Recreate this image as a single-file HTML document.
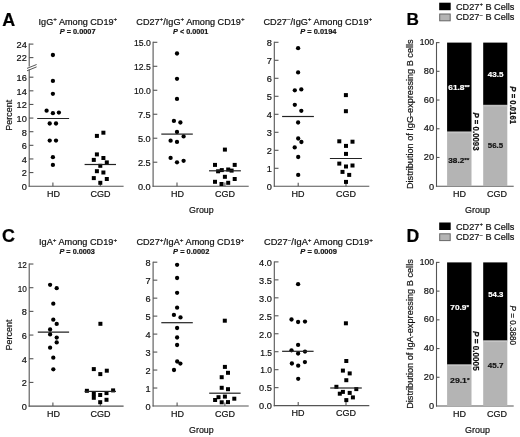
<!DOCTYPE html>
<html><head><meta charset="utf-8"><style>
html,body{margin:0;padding:0;background:#fff;}
svg{display:block;font-family:"Liberation Sans", sans-serif;will-change:transform;}
text{stroke-width:0.2px;}
</style></head><body>
<svg width="520" height="437" viewBox="0 0 520 437">
<rect width="520" height="437" fill="#fff"/>
<text x="2.30" y="25.50" font-size="17.9" text-anchor="start" font-weight="bold" fill="#000" stroke="#000" style="">A</text>
<text x="2.00" y="241.60" font-size="17.9" text-anchor="start" font-weight="bold" fill="#000" stroke="#000" style="">C</text>
<text x="406.60" y="24.90" font-size="17.2" text-anchor="start" font-weight="bold" fill="#000" stroke="#000" style="">B</text>
<text x="406.60" y="241.60" font-size="17.6" text-anchor="start" font-weight="bold" fill="#000" stroke="#000" style="">D</text>
<text x="38.60" y="25.20" font-size="8.6" text-anchor="start" font-weight="normal" fill="#111" stroke="#111" textLength="78.60" lengthAdjust="spacingAndGlyphs" style="">IgG<tspan font-size="5.9" dy="-3.8">+</tspan><tspan dy="3.8"> Among CD19</tspan><tspan font-size="5.9" dy="-3.8">+</tspan></text>
<text x="136.30" y="25.20" font-size="8.6" text-anchor="start" font-weight="normal" fill="#111" stroke="#111" textLength="108.30" lengthAdjust="spacingAndGlyphs" style="">CD27<tspan font-size="5.9" dy="-3.8">+</tspan><tspan dy="3.8">/IgG</tspan><tspan font-size="5.9" dy="-3.8">+</tspan><tspan dy="3.8"> Among CD19</tspan><tspan font-size="5.9" dy="-3.8">+</tspan></text>
<text x="263.50" y="25.20" font-size="8.6" text-anchor="start" font-weight="normal" fill="#111" stroke="#111" textLength="108.70" lengthAdjust="spacingAndGlyphs" style="">CD27<tspan font-size="5.9" dy="-3.8">−</tspan><tspan dy="3.8">/IgG</tspan><tspan font-size="5.9" dy="-3.8">+</tspan><tspan dy="3.8"> Among CD19</tspan><tspan font-size="5.9" dy="-3.8">+</tspan></text>
<text x="39.00" y="245.30" font-size="8.6" text-anchor="start" font-weight="normal" fill="#111" stroke="#111" textLength="78.10" lengthAdjust="spacingAndGlyphs" style="">IgA<tspan font-size="5.9" dy="-3.8">+</tspan><tspan dy="3.8"> Among CD19</tspan><tspan font-size="5.9" dy="-3.8">+</tspan></text>
<text x="136.40" y="245.30" font-size="8.6" text-anchor="start" font-weight="normal" fill="#111" stroke="#111" textLength="107.80" lengthAdjust="spacingAndGlyphs" style="">CD27<tspan font-size="5.9" dy="-3.8">+</tspan><tspan dy="3.8">/IgA</tspan><tspan font-size="5.9" dy="-3.8">+</tspan><tspan dy="3.8"> Among CD19</tspan><tspan font-size="5.9" dy="-3.8">+</tspan></text>
<text x="264.00" y="245.30" font-size="8.6" text-anchor="start" font-weight="normal" fill="#111" stroke="#111" textLength="108.90" lengthAdjust="spacingAndGlyphs" style="">CD27<tspan font-size="5.9" dy="-3.8">−</tspan><tspan dy="3.8">/IgA</tspan><tspan font-size="5.9" dy="-3.8">+</tspan><tspan dy="3.8"> Among CD19</tspan><tspan font-size="5.9" dy="-3.8">+</tspan></text>
<text x="59.70" y="34.20" font-size="7.9" text-anchor="start" font-weight="bold" fill="#111" stroke="#111" textLength="35.90" lengthAdjust="spacingAndGlyphs" style=""><tspan font-style="italic">P</tspan> = 0.0007</text>
<text x="173.10" y="34.20" font-size="7.9" text-anchor="start" font-weight="bold" fill="#111" stroke="#111" textLength="35.20" lengthAdjust="spacingAndGlyphs" style=""><tspan font-style="italic">P</tspan> &lt; 0.0001</text>
<text x="300.30" y="34.20" font-size="7.9" text-anchor="start" font-weight="bold" fill="#111" stroke="#111" textLength="36.20" lengthAdjust="spacingAndGlyphs" style=""><tspan font-style="italic">P</tspan> = 0.0194</text>
<text x="59.50" y="253.60" font-size="7.9" text-anchor="start" font-weight="bold" fill="#111" stroke="#111" textLength="35.40" lengthAdjust="spacingAndGlyphs" style=""><tspan font-style="italic">P</tspan> = 0.0003</text>
<text x="173.10" y="253.60" font-size="7.9" text-anchor="start" font-weight="bold" fill="#111" stroke="#111" textLength="36.20" lengthAdjust="spacingAndGlyphs" style=""><tspan font-style="italic">P</tspan> = 0.0002</text>
<text x="300.30" y="253.60" font-size="7.9" text-anchor="start" font-weight="bold" fill="#111" stroke="#111" textLength="36.60" lengthAdjust="spacingAndGlyphs" style=""><tspan font-style="italic">P</tspan> = 0.0009</text>
<line x1="29.20" y1="43.60" x2="29.20" y2="66.60" stroke="#555" stroke-width="1.1"/>
<line x1="29.20" y1="69.40" x2="29.20" y2="186.75" stroke="#555" stroke-width="1.1"/>
<line x1="28.65" y1="186.20" x2="123.60" y2="186.20" stroke="#555" stroke-width="1.1"/>
<line x1="29.20" y1="44.10" x2="33.40" y2="44.10" stroke="#555" stroke-width="1.1"/>
<text x="26.80" y="47.90" font-size="9.2" text-anchor="end" font-weight="normal" fill="#111" stroke="#111" style="">24</text>
<line x1="29.20" y1="57.60" x2="33.40" y2="57.60" stroke="#555" stroke-width="1.1"/>
<text x="26.80" y="61.40" font-size="9.2" text-anchor="end" font-weight="normal" fill="#111" stroke="#111" style="">22</text>
<line x1="29.20" y1="77.20" x2="33.40" y2="77.20" stroke="#555" stroke-width="1.1"/>
<text x="26.80" y="81.00" font-size="9.2" text-anchor="end" font-weight="normal" fill="#111" stroke="#111" style="">16</text>
<line x1="29.20" y1="90.82" x2="33.40" y2="90.82" stroke="#555" stroke-width="1.1"/>
<text x="26.80" y="94.62" font-size="9.2" text-anchor="end" font-weight="normal" fill="#111" stroke="#111" style="">14</text>
<line x1="29.20" y1="104.45" x2="33.40" y2="104.45" stroke="#555" stroke-width="1.1"/>
<text x="26.80" y="108.25" font-size="9.2" text-anchor="end" font-weight="normal" fill="#111" stroke="#111" style="">12</text>
<line x1="29.20" y1="118.07" x2="33.40" y2="118.07" stroke="#555" stroke-width="1.1"/>
<text x="26.80" y="121.87" font-size="9.2" text-anchor="end" font-weight="normal" fill="#111" stroke="#111" style="">10</text>
<line x1="29.20" y1="131.70" x2="33.40" y2="131.70" stroke="#555" stroke-width="1.1"/>
<text x="26.80" y="135.50" font-size="9.2" text-anchor="end" font-weight="normal" fill="#111" stroke="#111" style="">8</text>
<line x1="29.20" y1="145.32" x2="33.40" y2="145.32" stroke="#555" stroke-width="1.1"/>
<text x="26.80" y="149.12" font-size="9.2" text-anchor="end" font-weight="normal" fill="#111" stroke="#111" style="">6</text>
<line x1="29.20" y1="158.95" x2="33.40" y2="158.95" stroke="#555" stroke-width="1.1"/>
<text x="26.80" y="162.75" font-size="9.2" text-anchor="end" font-weight="normal" fill="#111" stroke="#111" style="">4</text>
<line x1="29.20" y1="172.57" x2="33.40" y2="172.57" stroke="#555" stroke-width="1.1"/>
<text x="26.80" y="176.38" font-size="9.2" text-anchor="end" font-weight="normal" fill="#111" stroke="#111" style="">2</text>
<text x="26.80" y="190.00" font-size="9.2" text-anchor="end" font-weight="normal" fill="#111" stroke="#111" style="">0</text>
<line x1="27.00" y1="68.40" x2="36.60" y2="64.50" stroke="#555" stroke-width="1.0"/>
<line x1="27.00" y1="70.80" x2="36.60" y2="66.90" stroke="#555" stroke-width="1.0"/>
<line x1="52.90" y1="186.20" x2="52.90" y2="182.60" stroke="#555" stroke-width="1.1"/>
<line x1="100.30" y1="186.20" x2="100.30" y2="182.60" stroke="#555" stroke-width="1.1"/>
<text x="53.60" y="196.80" font-size="9.0" text-anchor="middle" font-weight="normal" fill="#111" stroke="#111" style="">HD</text>
<text x="100.60" y="196.80" font-size="9.0" text-anchor="middle" font-weight="normal" fill="#111" stroke="#111" style="">CGD</text>
<circle cx="52.90" cy="55.00" r="2.15" fill="#000"/>
<circle cx="52.90" cy="80.90" r="2.15" fill="#000"/>
<circle cx="52.90" cy="93.80" r="2.15" fill="#000"/>
<circle cx="46.60" cy="110.70" r="2.15" fill="#000"/>
<circle cx="52.90" cy="113.20" r="2.15" fill="#000"/>
<circle cx="58.90" cy="112.60" r="2.15" fill="#000"/>
<circle cx="49.70" cy="123.50" r="2.15" fill="#000"/>
<circle cx="56.00" cy="123.50" r="2.15" fill="#000"/>
<circle cx="49.70" cy="140.60" r="2.15" fill="#000"/>
<circle cx="56.00" cy="140.60" r="2.15" fill="#000"/>
<circle cx="52.90" cy="157.20" r="2.15" fill="#000"/>
<circle cx="52.90" cy="164.90" r="2.15" fill="#000"/>
<line x1="37.20" y1="118.50" x2="69.10" y2="118.50" stroke="#222" stroke-width="1.2"/>
<rect x="94.90" y="133.90" width="4.0" height="4.0" fill="#000"/>
<rect x="101.40" y="130.70" width="4.0" height="4.0" fill="#000"/>
<rect x="94.90" y="152.40" width="4.0" height="4.0" fill="#000"/>
<rect x="91.80" y="157.90" width="4.0" height="4.0" fill="#000"/>
<rect x="101.40" y="156.00" width="4.0" height="4.0" fill="#000"/>
<rect x="104.80" y="160.40" width="4.0" height="4.0" fill="#000"/>
<rect x="98.30" y="163.80" width="4.0" height="4.0" fill="#000"/>
<rect x="94.90" y="169.20" width="4.0" height="4.0" fill="#000"/>
<rect x="101.40" y="170.50" width="4.0" height="4.0" fill="#000"/>
<rect x="91.80" y="176.10" width="4.0" height="4.0" fill="#000"/>
<rect x="104.80" y="177.00" width="4.0" height="4.0" fill="#000"/>
<rect x="98.30" y="180.80" width="4.0" height="4.0" fill="#000"/>
<line x1="84.60" y1="164.50" x2="116.00" y2="164.50" stroke="#222" stroke-width="1.2"/>
<line x1="153.10" y1="41.80" x2="153.10" y2="186.75" stroke="#555" stroke-width="1.1"/>
<line x1="152.55" y1="186.20" x2="248.70" y2="186.20" stroke="#555" stroke-width="1.1"/>
<line x1="153.10" y1="42.30" x2="157.30" y2="42.30" stroke="#555" stroke-width="1.1"/>
<text x="150.70" y="46.10" font-size="9.2" text-anchor="end" font-weight="normal" fill="#111" stroke="#111" textLength="16.80" lengthAdjust="spacingAndGlyphs" style="">15.0</text>
<line x1="153.10" y1="66.29" x2="157.30" y2="66.29" stroke="#555" stroke-width="1.1"/>
<text x="150.70" y="70.09" font-size="9.2" text-anchor="end" font-weight="normal" fill="#111" stroke="#111" textLength="16.80" lengthAdjust="spacingAndGlyphs" style="">12.5</text>
<line x1="153.10" y1="90.27" x2="157.30" y2="90.27" stroke="#555" stroke-width="1.1"/>
<text x="150.70" y="94.07" font-size="9.2" text-anchor="end" font-weight="normal" fill="#111" stroke="#111" textLength="16.80" lengthAdjust="spacingAndGlyphs" style="">10.0</text>
<line x1="153.10" y1="114.25" x2="157.30" y2="114.25" stroke="#555" stroke-width="1.1"/>
<text x="150.70" y="118.05" font-size="9.2" text-anchor="end" font-weight="normal" fill="#111" stroke="#111" style="">7.5</text>
<line x1="153.10" y1="138.23" x2="157.30" y2="138.23" stroke="#555" stroke-width="1.1"/>
<text x="150.70" y="142.03" font-size="9.2" text-anchor="end" font-weight="normal" fill="#111" stroke="#111" style="">5.0</text>
<line x1="153.10" y1="162.22" x2="157.30" y2="162.22" stroke="#555" stroke-width="1.1"/>
<text x="150.70" y="166.02" font-size="9.2" text-anchor="end" font-weight="normal" fill="#111" stroke="#111" style="">2.5</text>
<text x="150.70" y="190.00" font-size="9.2" text-anchor="end" font-weight="normal" fill="#111" stroke="#111" style="">0.0</text>
<line x1="177.00" y1="186.20" x2="177.00" y2="182.60" stroke="#555" stroke-width="1.1"/>
<line x1="224.90" y1="186.20" x2="224.90" y2="182.60" stroke="#555" stroke-width="1.1"/>
<text x="177.40" y="196.80" font-size="9.0" text-anchor="middle" font-weight="normal" fill="#111" stroke="#111" style="">HD</text>
<text x="224.90" y="196.80" font-size="9.0" text-anchor="middle" font-weight="normal" fill="#111" stroke="#111" style="">CGD</text>
<circle cx="177.00" cy="53.50" r="2.15" fill="#000"/>
<circle cx="177.00" cy="78.80" r="2.15" fill="#000"/>
<circle cx="177.00" cy="98.90" r="2.15" fill="#000"/>
<circle cx="173.90" cy="120.90" r="2.15" fill="#000"/>
<circle cx="180.40" cy="122.50" r="2.15" fill="#000"/>
<circle cx="177.00" cy="132.00" r="2.15" fill="#000"/>
<circle cx="183.60" cy="136.40" r="2.15" fill="#000"/>
<circle cx="170.60" cy="140.70" r="2.15" fill="#000"/>
<circle cx="177.00" cy="141.90" r="2.15" fill="#000"/>
<circle cx="170.60" cy="157.90" r="2.15" fill="#000"/>
<circle cx="177.00" cy="162.30" r="2.15" fill="#000"/>
<circle cx="183.60" cy="160.80" r="2.15" fill="#000"/>
<line x1="161.30" y1="134.10" x2="192.80" y2="134.10" stroke="#222" stroke-width="1.2"/>
<rect x="222.90" y="147.60" width="4.0" height="4.0" fill="#000"/>
<rect x="213.00" y="162.90" width="4.0" height="4.0" fill="#000"/>
<rect x="232.70" y="162.90" width="4.0" height="4.0" fill="#000"/>
<rect x="216.10" y="169.30" width="4.0" height="4.0" fill="#000"/>
<rect x="219.80" y="168.10" width="4.0" height="4.0" fill="#000"/>
<rect x="226.20" y="167.50" width="4.0" height="4.0" fill="#000"/>
<rect x="229.60" y="168.60" width="4.0" height="4.0" fill="#000"/>
<rect x="222.90" y="174.80" width="4.0" height="4.0" fill="#000"/>
<rect x="232.70" y="177.00" width="4.0" height="4.0" fill="#000"/>
<rect x="213.00" y="179.80" width="4.0" height="4.0" fill="#000"/>
<rect x="219.50" y="182.00" width="4.0" height="4.0" fill="#000"/>
<rect x="226.20" y="180.80" width="4.0" height="4.0" fill="#000"/>
<line x1="209.00" y1="170.80" x2="240.90" y2="170.80" stroke="#222" stroke-width="1.2"/>
<line x1="274.30" y1="41.80" x2="274.30" y2="186.85" stroke="#555" stroke-width="1.1"/>
<line x1="273.75" y1="186.30" x2="369.30" y2="186.30" stroke="#555" stroke-width="1.1"/>
<line x1="274.30" y1="42.30" x2="278.50" y2="42.30" stroke="#555" stroke-width="1.1"/>
<text x="271.90" y="46.10" font-size="9.2" text-anchor="end" font-weight="normal" fill="#111" stroke="#111" style="">8</text>
<line x1="274.30" y1="60.30" x2="278.50" y2="60.30" stroke="#555" stroke-width="1.1"/>
<text x="271.90" y="64.10" font-size="9.2" text-anchor="end" font-weight="normal" fill="#111" stroke="#111" style="">7</text>
<line x1="274.30" y1="78.30" x2="278.50" y2="78.30" stroke="#555" stroke-width="1.1"/>
<text x="271.90" y="82.10" font-size="9.2" text-anchor="end" font-weight="normal" fill="#111" stroke="#111" style="">6</text>
<line x1="274.30" y1="96.30" x2="278.50" y2="96.30" stroke="#555" stroke-width="1.1"/>
<text x="271.90" y="100.10" font-size="9.2" text-anchor="end" font-weight="normal" fill="#111" stroke="#111" style="">5</text>
<line x1="274.30" y1="114.30" x2="278.50" y2="114.30" stroke="#555" stroke-width="1.1"/>
<text x="271.90" y="118.10" font-size="9.2" text-anchor="end" font-weight="normal" fill="#111" stroke="#111" style="">4</text>
<line x1="274.30" y1="132.30" x2="278.50" y2="132.30" stroke="#555" stroke-width="1.1"/>
<text x="271.90" y="136.10" font-size="9.2" text-anchor="end" font-weight="normal" fill="#111" stroke="#111" style="">3</text>
<line x1="274.30" y1="150.30" x2="278.50" y2="150.30" stroke="#555" stroke-width="1.1"/>
<text x="271.90" y="154.10" font-size="9.2" text-anchor="end" font-weight="normal" fill="#111" stroke="#111" style="">2</text>
<line x1="274.30" y1="168.30" x2="278.50" y2="168.30" stroke="#555" stroke-width="1.1"/>
<text x="271.90" y="172.10" font-size="9.2" text-anchor="end" font-weight="normal" fill="#111" stroke="#111" style="">1</text>
<text x="271.90" y="190.10" font-size="9.2" text-anchor="end" font-weight="normal" fill="#111" stroke="#111" style="">0</text>
<line x1="298.20" y1="186.30" x2="298.20" y2="182.70" stroke="#555" stroke-width="1.1"/>
<line x1="346.00" y1="186.30" x2="346.00" y2="182.70" stroke="#555" stroke-width="1.1"/>
<text x="298.00" y="196.90" font-size="9.0" text-anchor="middle" font-weight="normal" fill="#111" stroke="#111" style="">HD</text>
<text x="345.90" y="196.90" font-size="9.0" text-anchor="middle" font-weight="normal" fill="#111" stroke="#111" style="">CGD</text>
<circle cx="298.10" cy="48.20" r="2.15" fill="#000"/>
<circle cx="298.10" cy="72.40" r="2.15" fill="#000"/>
<circle cx="294.80" cy="90.30" r="2.15" fill="#000"/>
<circle cx="301.30" cy="89.40" r="2.15" fill="#000"/>
<circle cx="294.80" cy="104.80" r="2.15" fill="#000"/>
<circle cx="301.30" cy="110.80" r="2.15" fill="#000"/>
<circle cx="298.10" cy="122.50" r="2.15" fill="#000"/>
<circle cx="298.20" cy="138.50" r="2.15" fill="#000"/>
<circle cx="301.40" cy="142.00" r="2.15" fill="#000"/>
<circle cx="294.70" cy="147.40" r="2.15" fill="#000"/>
<circle cx="298.20" cy="157.00" r="2.15" fill="#000"/>
<circle cx="298.20" cy="174.90" r="2.15" fill="#000"/>
<line x1="282.10" y1="116.50" x2="313.90" y2="116.50" stroke="#222" stroke-width="1.2"/>
<rect x="343.90" y="93.10" width="4.0" height="4.0" fill="#000"/>
<rect x="343.90" y="109.20" width="4.0" height="4.0" fill="#000"/>
<rect x="337.30" y="139.30" width="4.0" height="4.0" fill="#000"/>
<rect x="350.50" y="139.70" width="4.0" height="4.0" fill="#000"/>
<rect x="344.00" y="143.90" width="4.0" height="4.0" fill="#000"/>
<rect x="344.00" y="151.90" width="4.0" height="4.0" fill="#000"/>
<rect x="337.30" y="161.60" width="4.0" height="4.0" fill="#000"/>
<rect x="344.00" y="164.50" width="4.0" height="4.0" fill="#000"/>
<rect x="350.50" y="163.50" width="4.0" height="4.0" fill="#000"/>
<rect x="340.50" y="169.90" width="4.0" height="4.0" fill="#000"/>
<rect x="347.20" y="172.90" width="4.0" height="4.0" fill="#000"/>
<rect x="344.00" y="179.90" width="4.0" height="4.0" fill="#000"/>
<line x1="329.90" y1="158.50" x2="361.90" y2="158.50" stroke="#222" stroke-width="1.2"/>
<line x1="29.20" y1="263.50" x2="29.20" y2="406.65" stroke="#555" stroke-width="1.1"/>
<line x1="28.65" y1="406.10" x2="123.60" y2="406.10" stroke="#555" stroke-width="1.1"/>
<line x1="29.20" y1="264.02" x2="33.40" y2="264.02" stroke="#555" stroke-width="1.1"/>
<text x="26.80" y="267.82" font-size="9.2" text-anchor="end" font-weight="normal" fill="#111" stroke="#111" textLength="9.13" lengthAdjust="spacingAndGlyphs" style="">12</text>
<line x1="29.20" y1="287.70" x2="33.40" y2="287.70" stroke="#555" stroke-width="1.1"/>
<text x="26.80" y="291.50" font-size="9.2" text-anchor="end" font-weight="normal" fill="#111" stroke="#111" textLength="9.13" lengthAdjust="spacingAndGlyphs" style="">10</text>
<line x1="29.20" y1="311.38" x2="33.40" y2="311.38" stroke="#555" stroke-width="1.1"/>
<text x="26.80" y="315.18" font-size="9.2" text-anchor="end" font-weight="normal" fill="#111" stroke="#111" style="">8</text>
<line x1="29.20" y1="335.06" x2="33.40" y2="335.06" stroke="#555" stroke-width="1.1"/>
<text x="26.80" y="338.86" font-size="9.2" text-anchor="end" font-weight="normal" fill="#111" stroke="#111" style="">6</text>
<line x1="29.20" y1="358.74" x2="33.40" y2="358.74" stroke="#555" stroke-width="1.1"/>
<text x="26.80" y="362.54" font-size="9.2" text-anchor="end" font-weight="normal" fill="#111" stroke="#111" style="">4</text>
<line x1="29.20" y1="382.42" x2="33.40" y2="382.42" stroke="#555" stroke-width="1.1"/>
<text x="26.80" y="386.22" font-size="9.2" text-anchor="end" font-weight="normal" fill="#111" stroke="#111" style="">2</text>
<text x="26.80" y="409.90" font-size="9.2" text-anchor="end" font-weight="normal" fill="#111" stroke="#111" style="">0</text>
<line x1="52.90" y1="406.10" x2="52.90" y2="402.50" stroke="#555" stroke-width="1.1"/>
<line x1="100.30" y1="406.10" x2="100.30" y2="402.50" stroke="#555" stroke-width="1.1"/>
<text x="53.60" y="416.70" font-size="9.0" text-anchor="middle" font-weight="normal" fill="#111" stroke="#111" style="">HD</text>
<text x="100.60" y="416.70" font-size="9.0" text-anchor="middle" font-weight="normal" fill="#111" stroke="#111" style="">CGD</text>
<circle cx="50.10" cy="284.80" r="2.15" fill="#000"/>
<circle cx="56.70" cy="288.20" r="2.15" fill="#000"/>
<circle cx="53.30" cy="303.70" r="2.15" fill="#000"/>
<circle cx="53.30" cy="319.70" r="2.15" fill="#000"/>
<circle cx="56.70" cy="323.90" r="2.15" fill="#000"/>
<circle cx="50.10" cy="329.50" r="2.15" fill="#000"/>
<circle cx="50.10" cy="334.40" r="2.15" fill="#000"/>
<circle cx="56.70" cy="337.60" r="2.15" fill="#000"/>
<circle cx="56.70" cy="342.40" r="2.15" fill="#000"/>
<circle cx="50.10" cy="347.70" r="2.15" fill="#000"/>
<circle cx="53.30" cy="357.70" r="2.15" fill="#000"/>
<circle cx="53.30" cy="369.30" r="2.15" fill="#000"/>
<line x1="37.80" y1="332.20" x2="69.10" y2="332.20" stroke="#222" stroke-width="1.2"/>
<rect x="98.40" y="321.80" width="4.0" height="4.0" fill="#000"/>
<rect x="91.80" y="367.10" width="4.0" height="4.0" fill="#000"/>
<rect x="104.80" y="368.70" width="4.0" height="4.0" fill="#000"/>
<rect x="98.30" y="372.10" width="4.0" height="4.0" fill="#000"/>
<rect x="84.90" y="388.80" width="4.0" height="4.0" fill="#000"/>
<rect x="111.10" y="388.40" width="4.0" height="4.0" fill="#000"/>
<rect x="91.80" y="392.00" width="4.0" height="4.0" fill="#000"/>
<rect x="91.80" y="395.80" width="4.0" height="4.0" fill="#000"/>
<rect x="98.20" y="393.00" width="4.0" height="4.0" fill="#000"/>
<rect x="104.50" y="391.10" width="4.0" height="4.0" fill="#000"/>
<rect x="104.50" y="397.80" width="4.0" height="4.0" fill="#000"/>
<rect x="98.20" y="400.20" width="4.0" height="4.0" fill="#000"/>
<line x1="84.60" y1="391.40" x2="116.00" y2="391.40" stroke="#222" stroke-width="1.2"/>
<line x1="153.10" y1="261.70" x2="153.10" y2="406.55" stroke="#555" stroke-width="1.1"/>
<line x1="152.55" y1="406.00" x2="248.70" y2="406.00" stroke="#555" stroke-width="1.1"/>
<line x1="153.10" y1="262.20" x2="157.30" y2="262.20" stroke="#555" stroke-width="1.1"/>
<text x="150.70" y="266.00" font-size="9.2" text-anchor="end" font-weight="normal" fill="#111" stroke="#111" style="">8</text>
<line x1="153.10" y1="280.17" x2="157.30" y2="280.17" stroke="#555" stroke-width="1.1"/>
<text x="150.70" y="283.97" font-size="9.2" text-anchor="end" font-weight="normal" fill="#111" stroke="#111" style="">7</text>
<line x1="153.10" y1="298.15" x2="157.30" y2="298.15" stroke="#555" stroke-width="1.1"/>
<text x="150.70" y="301.95" font-size="9.2" text-anchor="end" font-weight="normal" fill="#111" stroke="#111" style="">6</text>
<line x1="153.10" y1="316.12" x2="157.30" y2="316.12" stroke="#555" stroke-width="1.1"/>
<text x="150.70" y="319.93" font-size="9.2" text-anchor="end" font-weight="normal" fill="#111" stroke="#111" style="">5</text>
<line x1="153.10" y1="334.10" x2="157.30" y2="334.10" stroke="#555" stroke-width="1.1"/>
<text x="150.70" y="337.90" font-size="9.2" text-anchor="end" font-weight="normal" fill="#111" stroke="#111" style="">4</text>
<line x1="153.10" y1="352.07" x2="157.30" y2="352.07" stroke="#555" stroke-width="1.1"/>
<text x="150.70" y="355.88" font-size="9.2" text-anchor="end" font-weight="normal" fill="#111" stroke="#111" style="">3</text>
<line x1="153.10" y1="370.05" x2="157.30" y2="370.05" stroke="#555" stroke-width="1.1"/>
<text x="150.70" y="373.85" font-size="9.2" text-anchor="end" font-weight="normal" fill="#111" stroke="#111" style="">2</text>
<line x1="153.10" y1="388.02" x2="157.30" y2="388.02" stroke="#555" stroke-width="1.1"/>
<text x="150.70" y="391.82" font-size="9.2" text-anchor="end" font-weight="normal" fill="#111" stroke="#111" style="">1</text>
<text x="150.70" y="409.80" font-size="9.2" text-anchor="end" font-weight="normal" fill="#111" stroke="#111" style="">0</text>
<line x1="177.10" y1="406.00" x2="177.10" y2="402.40" stroke="#555" stroke-width="1.1"/>
<line x1="224.90" y1="406.00" x2="224.90" y2="402.40" stroke="#555" stroke-width="1.1"/>
<text x="177.40" y="416.60" font-size="9.0" text-anchor="middle" font-weight="normal" fill="#111" stroke="#111" style="">HD</text>
<text x="224.90" y="416.60" font-size="9.0" text-anchor="middle" font-weight="normal" fill="#111" stroke="#111" style="">CGD</text>
<circle cx="177.10" cy="264.80" r="2.15" fill="#000"/>
<circle cx="177.10" cy="278.00" r="2.15" fill="#000"/>
<circle cx="177.10" cy="292.80" r="2.15" fill="#000"/>
<circle cx="177.10" cy="307.70" r="2.15" fill="#000"/>
<circle cx="173.90" cy="314.90" r="2.15" fill="#000"/>
<circle cx="180.50" cy="317.40" r="2.15" fill="#000"/>
<circle cx="177.10" cy="328.00" r="2.15" fill="#000"/>
<circle cx="177.10" cy="337.50" r="2.15" fill="#000"/>
<circle cx="177.10" cy="345.00" r="2.15" fill="#000"/>
<circle cx="177.20" cy="361.50" r="2.15" fill="#000"/>
<circle cx="180.40" cy="363.60" r="2.15" fill="#000"/>
<circle cx="174.00" cy="370.00" r="2.15" fill="#000"/>
<line x1="161.30" y1="322.70" x2="192.80" y2="322.70" stroke="#222" stroke-width="1.2"/>
<rect x="222.80" y="318.70" width="4.0" height="4.0" fill="#000"/>
<rect x="222.90" y="364.90" width="4.0" height="4.0" fill="#000"/>
<rect x="226.00" y="370.80" width="4.0" height="4.0" fill="#000"/>
<rect x="219.70" y="375.20" width="4.0" height="4.0" fill="#000"/>
<rect x="219.70" y="385.80" width="4.0" height="4.0" fill="#000"/>
<rect x="226.00" y="387.20" width="4.0" height="4.0" fill="#000"/>
<rect x="216.50" y="395.20" width="4.0" height="4.0" fill="#000"/>
<rect x="222.90" y="394.60" width="4.0" height="4.0" fill="#000"/>
<rect x="232.30" y="396.70" width="4.0" height="4.0" fill="#000"/>
<rect x="213.10" y="398.00" width="4.0" height="4.0" fill="#000"/>
<rect x="219.70" y="400.30" width="4.0" height="4.0" fill="#000"/>
<rect x="226.00" y="400.10" width="4.0" height="4.0" fill="#000"/>
<line x1="209.20" y1="393.20" x2="240.60" y2="393.20" stroke="#222" stroke-width="1.2"/>
<line x1="274.30" y1="261.40" x2="274.30" y2="406.15" stroke="#555" stroke-width="1.1"/>
<line x1="273.75" y1="405.60" x2="369.30" y2="405.60" stroke="#555" stroke-width="1.1"/>
<line x1="274.30" y1="261.90" x2="278.50" y2="261.90" stroke="#555" stroke-width="1.1"/>
<text x="271.90" y="265.70" font-size="9.2" text-anchor="end" font-weight="normal" fill="#111" stroke="#111" style="">4.0</text>
<line x1="274.30" y1="279.86" x2="278.50" y2="279.86" stroke="#555" stroke-width="1.1"/>
<text x="271.90" y="283.66" font-size="9.2" text-anchor="end" font-weight="normal" fill="#111" stroke="#111" style="">3.5</text>
<line x1="274.30" y1="297.83" x2="278.50" y2="297.83" stroke="#555" stroke-width="1.1"/>
<text x="271.90" y="301.63" font-size="9.2" text-anchor="end" font-weight="normal" fill="#111" stroke="#111" style="">3.0</text>
<line x1="274.30" y1="315.79" x2="278.50" y2="315.79" stroke="#555" stroke-width="1.1"/>
<text x="271.90" y="319.59" font-size="9.2" text-anchor="end" font-weight="normal" fill="#111" stroke="#111" style="">2.5</text>
<line x1="274.30" y1="333.75" x2="278.50" y2="333.75" stroke="#555" stroke-width="1.1"/>
<text x="271.90" y="337.55" font-size="9.2" text-anchor="end" font-weight="normal" fill="#111" stroke="#111" style="">2.0</text>
<line x1="274.30" y1="351.71" x2="278.50" y2="351.71" stroke="#555" stroke-width="1.1"/>
<text x="271.90" y="355.51" font-size="9.2" text-anchor="end" font-weight="normal" fill="#111" stroke="#111" textLength="11.69" lengthAdjust="spacingAndGlyphs" style="">1.5</text>
<line x1="274.30" y1="369.68" x2="278.50" y2="369.68" stroke="#555" stroke-width="1.1"/>
<text x="271.90" y="373.48" font-size="9.2" text-anchor="end" font-weight="normal" fill="#111" stroke="#111" textLength="11.69" lengthAdjust="spacingAndGlyphs" style="">1.0</text>
<line x1="274.30" y1="387.64" x2="278.50" y2="387.64" stroke="#555" stroke-width="1.1"/>
<text x="271.90" y="391.44" font-size="9.2" text-anchor="end" font-weight="normal" fill="#111" stroke="#111" style="">0.5</text>
<text x="271.90" y="409.40" font-size="9.2" text-anchor="end" font-weight="normal" fill="#111" stroke="#111" style="">0.0</text>
<line x1="298.20" y1="405.60" x2="298.20" y2="402.00" stroke="#555" stroke-width="1.1"/>
<line x1="346.00" y1="405.60" x2="346.00" y2="402.00" stroke="#555" stroke-width="1.1"/>
<text x="298.00" y="416.20" font-size="9.0" text-anchor="middle" font-weight="normal" fill="#111" stroke="#111" style="">HD</text>
<text x="345.90" y="416.20" font-size="9.0" text-anchor="middle" font-weight="normal" fill="#111" stroke="#111" style="">CGD</text>
<circle cx="298.10" cy="284.20" r="2.15" fill="#000"/>
<circle cx="291.50" cy="319.50" r="2.15" fill="#000"/>
<circle cx="298.10" cy="322.00" r="2.15" fill="#000"/>
<circle cx="305.00" cy="321.60" r="2.15" fill="#000"/>
<circle cx="298.10" cy="344.90" r="2.15" fill="#000"/>
<circle cx="291.50" cy="350.30" r="2.15" fill="#000"/>
<circle cx="298.10" cy="353.50" r="2.15" fill="#000"/>
<circle cx="305.00" cy="351.60" r="2.15" fill="#000"/>
<circle cx="291.90" cy="363.50" r="2.15" fill="#000"/>
<circle cx="298.20" cy="365.70" r="2.15" fill="#000"/>
<circle cx="304.90" cy="362.10" r="2.15" fill="#000"/>
<circle cx="298.20" cy="378.80" r="2.15" fill="#000"/>
<line x1="282.10" y1="351.30" x2="313.60" y2="351.30" stroke="#222" stroke-width="1.2"/>
<rect x="343.90" y="321.30" width="4.0" height="4.0" fill="#000"/>
<rect x="344.30" y="359.00" width="4.0" height="4.0" fill="#000"/>
<rect x="340.90" y="368.60" width="4.0" height="4.0" fill="#000"/>
<rect x="347.70" y="371.40" width="4.0" height="4.0" fill="#000"/>
<rect x="344.30" y="378.20" width="4.0" height="4.0" fill="#000"/>
<rect x="334.40" y="384.80" width="4.0" height="4.0" fill="#000"/>
<rect x="354.30" y="387.10" width="4.0" height="4.0" fill="#000"/>
<rect x="337.80" y="391.70" width="4.0" height="4.0" fill="#000"/>
<rect x="340.90" y="389.90" width="4.0" height="4.0" fill="#000"/>
<rect x="347.70" y="390.90" width="4.0" height="4.0" fill="#000"/>
<rect x="350.90" y="395.40" width="4.0" height="4.0" fill="#000"/>
<rect x="344.30" y="398.10" width="4.0" height="4.0" fill="#000"/>
<line x1="330.20" y1="388.00" x2="361.80" y2="388.00" stroke="#222" stroke-width="1.2"/>
<text transform="translate(11.8,130.80) rotate(-90)" font-size="9.5" fill="#111" stroke="#111" textLength="31.0" lengthAdjust="spacingAndGlyphs">Percent</text>
<text x="189.10" y="213.00" font-size="9.6" text-anchor="start" font-weight="normal" fill="#111" stroke="#111" textLength="24.60" lengthAdjust="spacingAndGlyphs" style="">Group</text>
<text x="465.00" y="212.80" font-size="9.6" text-anchor="start" font-weight="normal" fill="#111" stroke="#111" textLength="24.90" lengthAdjust="spacingAndGlyphs" style="">Group</text>
<text transform="translate(11.8,350.60) rotate(-90)" font-size="9.5" fill="#111" stroke="#111" textLength="31.0" lengthAdjust="spacingAndGlyphs">Percent</text>
<text x="189.10" y="432.80" font-size="9.6" text-anchor="start" font-weight="normal" fill="#111" stroke="#111" textLength="24.60" lengthAdjust="spacingAndGlyphs" style="">Group</text>
<text x="465.00" y="432.60" font-size="9.6" text-anchor="start" font-weight="normal" fill="#111" stroke="#111" textLength="24.90" lengthAdjust="spacingAndGlyphs" style="">Group</text>
<line x1="436.50" y1="42.10" x2="436.50" y2="186.75" stroke="#555" stroke-width="1.1"/>
<line x1="435.95" y1="186.20" x2="513.70" y2="186.20" stroke="#555" stroke-width="1.1"/>
<line x1="436.50" y1="42.60" x2="439.50" y2="42.60" stroke="#555" stroke-width="1.1"/>
<text x="434.10" y="45.20" font-size="9.2" text-anchor="end" font-weight="normal" fill="#111" stroke="#111" textLength="14.25" lengthAdjust="spacingAndGlyphs" style="">100</text>
<line x1="436.50" y1="71.32" x2="439.50" y2="71.32" stroke="#555" stroke-width="1.1"/>
<text x="434.10" y="73.92" font-size="9.2" text-anchor="end" font-weight="normal" fill="#111" stroke="#111" style="">80</text>
<line x1="436.50" y1="100.04" x2="439.50" y2="100.04" stroke="#555" stroke-width="1.1"/>
<text x="434.10" y="102.64" font-size="9.2" text-anchor="end" font-weight="normal" fill="#111" stroke="#111" style="">60</text>
<line x1="436.50" y1="128.76" x2="439.50" y2="128.76" stroke="#555" stroke-width="1.1"/>
<text x="434.10" y="131.36" font-size="9.2" text-anchor="end" font-weight="normal" fill="#111" stroke="#111" style="">40</text>
<line x1="436.50" y1="157.48" x2="439.50" y2="157.48" stroke="#555" stroke-width="1.1"/>
<text x="434.10" y="160.08" font-size="9.2" text-anchor="end" font-weight="normal" fill="#111" stroke="#111" style="">20</text>
<text x="434.10" y="189.60" font-size="9.2" text-anchor="end" font-weight="normal" fill="#111" stroke="#111" style="">0</text>
<rect x="447.1" y="42.60" width="24.40" height="89.10" fill="#000"/>
<rect x="447.1" y="131.70" width="24.40" height="54.50" fill="#b4b4b4"/>
<rect x="447.6" y="132.00" width="23.90" height="1.2" fill="#c6c6c6"/>
<rect x="483.2" y="42.60" width="24.10" height="62.30" fill="#000"/>
<rect x="483.2" y="104.90" width="24.10" height="81.30" fill="#b4b4b4"/>
<rect x="483.7" y="105.20" width="23.60" height="1.2" fill="#c6c6c6"/>
<text x="459.50" y="196.80" font-size="9.0" text-anchor="middle" font-weight="normal" fill="#111" stroke="#111" style="">HD</text>
<text x="497.00" y="196.80" font-size="9.0" text-anchor="middle" font-weight="normal" fill="#111" stroke="#111" style="">CGD</text>
<text transform="translate(413.4,189.00) rotate(-90)" font-size="9.1" fill="#111" stroke="#111" textLength="149.6" lengthAdjust="spacingAndGlyphs">Distribution of IgG-expressing B cells</text>
<text x="448.30" y="89.70" font-size="7.9" text-anchor="start" font-weight="bold" fill="#fff" stroke="#fff" textLength="21.30" lengthAdjust="spacingAndGlyphs" style="">61.8<tspan font-size="6.2" dy="-0.9">**</tspan></text>
<text x="487.80" y="76.90" font-size="7.9" text-anchor="start" font-weight="bold" fill="#fff" stroke="#fff" textLength="15.60" lengthAdjust="spacingAndGlyphs" style="">43.5</text>
<text x="448.30" y="163.10" font-size="7.9" text-anchor="start" font-weight="bold" fill="#111" stroke="#111" textLength="20.90" lengthAdjust="spacingAndGlyphs" style="">38.2<tspan font-size="6.2" dy="-0.9">**</tspan></text>
<text x="487.80" y="148.10" font-size="7.9" text-anchor="start" font-weight="bold" fill="#111" stroke="#111" textLength="15.30" lengthAdjust="spacingAndGlyphs" style="">56.5</text>
<text transform="translate(473.20,112.40) rotate(90)" font-size="8.8" font-weight="bold" fill="#111" stroke="#111" textLength="38.20" lengthAdjust="spacingAndGlyphs"><tspan font-style="italic">P</tspan> = 0.0093</text>
<text transform="translate(510.00,86.30) rotate(90)" font-size="8.8" font-weight="bold" fill="#111" stroke="#111" textLength="37.80" lengthAdjust="spacingAndGlyphs"><tspan font-style="italic">P</tspan> = 0.0161</text>
<line x1="436.50" y1="261.90" x2="436.50" y2="406.55" stroke="#555" stroke-width="1.1"/>
<line x1="435.95" y1="406.00" x2="513.70" y2="406.00" stroke="#555" stroke-width="1.1"/>
<line x1="436.50" y1="262.40" x2="439.50" y2="262.40" stroke="#555" stroke-width="1.1"/>
<text x="434.10" y="265.00" font-size="9.2" text-anchor="end" font-weight="normal" fill="#111" stroke="#111" textLength="14.25" lengthAdjust="spacingAndGlyphs" style="">100</text>
<line x1="436.50" y1="291.12" x2="439.50" y2="291.12" stroke="#555" stroke-width="1.1"/>
<text x="434.10" y="293.72" font-size="9.2" text-anchor="end" font-weight="normal" fill="#111" stroke="#111" style="">80</text>
<line x1="436.50" y1="319.84" x2="439.50" y2="319.84" stroke="#555" stroke-width="1.1"/>
<text x="434.10" y="322.44" font-size="9.2" text-anchor="end" font-weight="normal" fill="#111" stroke="#111" style="">60</text>
<line x1="436.50" y1="348.56" x2="439.50" y2="348.56" stroke="#555" stroke-width="1.1"/>
<text x="434.10" y="351.16" font-size="9.2" text-anchor="end" font-weight="normal" fill="#111" stroke="#111" style="">40</text>
<line x1="436.50" y1="377.28" x2="439.50" y2="377.28" stroke="#555" stroke-width="1.1"/>
<text x="434.10" y="379.88" font-size="9.2" text-anchor="end" font-weight="normal" fill="#111" stroke="#111" style="">20</text>
<text x="434.10" y="409.40" font-size="9.2" text-anchor="end" font-weight="normal" fill="#111" stroke="#111" style="">0</text>
<rect x="447.1" y="262.40" width="24.40" height="102.20" fill="#000"/>
<rect x="447.1" y="364.60" width="24.40" height="41.40" fill="#b4b4b4"/>
<rect x="447.6" y="364.90" width="23.90" height="1.2" fill="#c6c6c6"/>
<rect x="483.2" y="262.40" width="24.10" height="78.20" fill="#000"/>
<rect x="483.2" y="340.60" width="24.10" height="65.40" fill="#b4b4b4"/>
<rect x="483.7" y="340.90" width="23.60" height="1.2" fill="#c6c6c6"/>
<text x="459.50" y="416.60" font-size="9.0" text-anchor="middle" font-weight="normal" fill="#111" stroke="#111" style="">HD</text>
<text x="497.00" y="416.60" font-size="9.0" text-anchor="middle" font-weight="normal" fill="#111" stroke="#111" style="">CGD</text>
<text transform="translate(413.4,408.80) rotate(-90)" font-size="9.1" fill="#111" stroke="#111" textLength="149.6" lengthAdjust="spacingAndGlyphs">Distribution of IgA-expressing B cells</text>
<text x="450.30" y="309.70" font-size="7.9" text-anchor="start" font-weight="bold" fill="#fff" stroke="#fff" textLength="18.70" lengthAdjust="spacingAndGlyphs" style="">70.9<tspan font-size="6.2" dy="-0.9">*</tspan></text>
<text x="488.30" y="296.90" font-size="7.9" text-anchor="start" font-weight="bold" fill="#fff" stroke="#fff" textLength="15.10" lengthAdjust="spacingAndGlyphs" style="">54.3</text>
<text x="450.10" y="383.10" font-size="7.9" text-anchor="start" font-weight="bold" fill="#111" stroke="#111" textLength="19.50" lengthAdjust="spacingAndGlyphs" style="">29.1<tspan font-size="6.2" dy="-0.9">*</tspan></text>
<text x="487.80" y="368.10" font-size="7.9" text-anchor="start" font-weight="bold" fill="#111" stroke="#111" textLength="15.60" lengthAdjust="spacingAndGlyphs" style="">45.7</text>
<text transform="translate(473.20,330.90) rotate(90)" font-size="8.8" font-weight="bold" fill="#111" stroke="#111" textLength="39.80" lengthAdjust="spacingAndGlyphs"><tspan font-style="italic">P</tspan> = 0.0005</text>
<text transform="translate(510.00,305.50) rotate(90)" font-size="8.8" font-weight="normal" fill="#111" stroke="#111" textLength="39.40" lengthAdjust="spacingAndGlyphs"><tspan font-style="italic">P</tspan> = 0.3880</text>
<rect x="439.2" y="2.70" width="11.5" height="7.5" fill="#000"/>
<rect x="439.7" y="14.00" width="10.5" height="6.8" fill="#b4b4b4" stroke="#666" stroke-width="1"/>
<text x="456.00" y="9.80" font-size="9.2" text-anchor="start" font-weight="normal" fill="#111" stroke="#111" textLength="58.40" lengthAdjust="spacingAndGlyphs" style="">CD27<tspan font-size="6.0" dy="-3.6">+</tspan><tspan dy="3.6"> B Cells</tspan></text>
<text x="456.00" y="20.40" font-size="9.2" text-anchor="start" font-weight="normal" fill="#111" stroke="#111" textLength="58.40" lengthAdjust="spacingAndGlyphs" style="">CD27<tspan font-size="6.0" dy="-3.6">−</tspan><tspan dy="3.6"> B Cells</tspan></text>
<rect x="439.2" y="222.50" width="11.5" height="7.5" fill="#000"/>
<rect x="439.7" y="233.80" width="10.5" height="6.8" fill="#b4b4b4" stroke="#666" stroke-width="1"/>
<text x="456.00" y="229.60" font-size="9.2" text-anchor="start" font-weight="normal" fill="#111" stroke="#111" textLength="58.40" lengthAdjust="spacingAndGlyphs" style="">CD27<tspan font-size="6.0" dy="-3.6">+</tspan><tspan dy="3.6"> B Cells</tspan></text>
<text x="456.00" y="240.20" font-size="9.2" text-anchor="start" font-weight="normal" fill="#111" stroke="#111" textLength="58.40" lengthAdjust="spacingAndGlyphs" style="">CD27<tspan font-size="6.0" dy="-3.6">−</tspan><tspan dy="3.6"> B Cells</tspan></text>
</svg></body></html>
